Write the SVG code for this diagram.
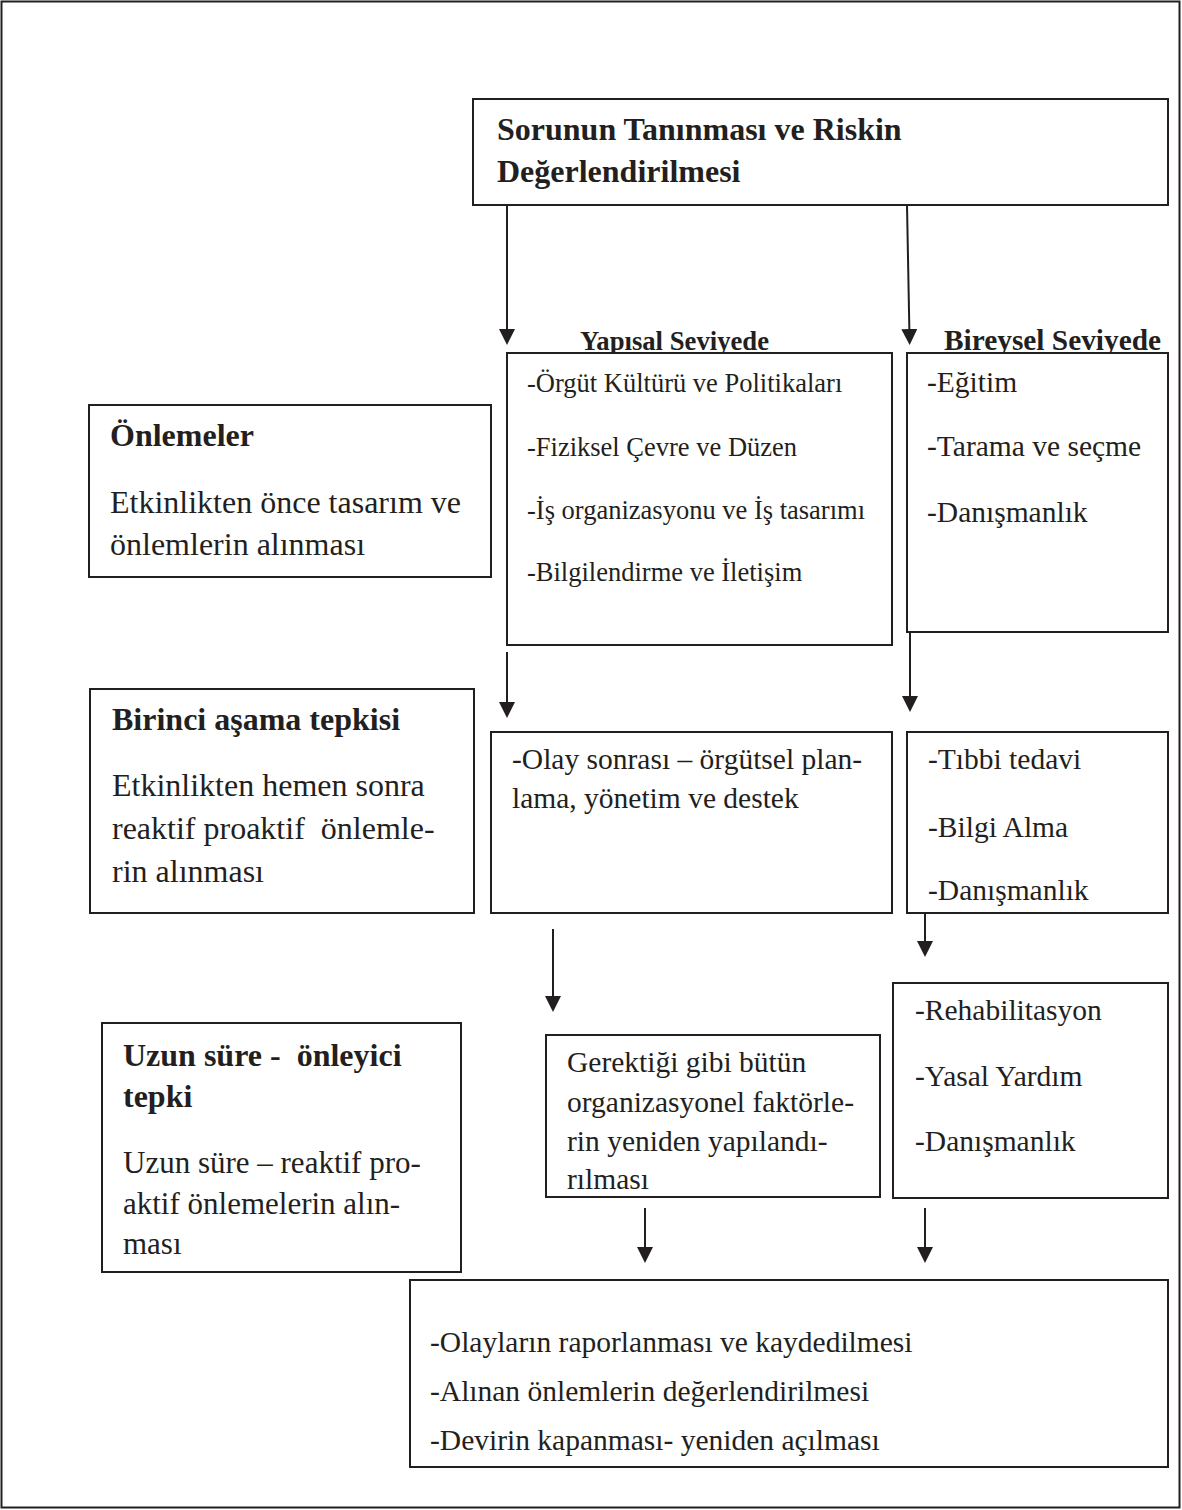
<svg xmlns="http://www.w3.org/2000/svg" width="1182" height="1510" viewBox="0 0 1182 1510">
<style>
.box{fill:#fff;stroke:#231f20;stroke-width:2}
.t{font-family:"Liberation Serif","Times New Roman",serif;fill:#231f20}
.b{font-weight:bold}
.s32{font-size:32px}
.s31{font-size:31px}
.s29{font-size:29.5px}
.s26{font-size:26.5px}
.conn line{stroke:#231f20;stroke-width:2;fill:none}
</style>
<defs>
<marker id="ah" viewBox="0 0 16 16" refX="8" refY="8" markerWidth="16" markerHeight="16" markerUnits="userSpaceOnUse" orient="auto">
<path d="M0,0 L16,8 L0,16 z" fill="#231f20"/>
</marker>
</defs>
<rect x="0" y="0" width="1182" height="1510" fill="#fff"/>
<rect x="1.5" y="1.5" width="1178" height="1506" fill="none" stroke="#231f20" stroke-width="2"/>

<g id="top">
<rect class="box" x="473" y="99" width="695" height="106"/>
<text class="t b s32" x="497" y="140">Sorunun Tanınması ve Riskin</text>
<text class="t b s32" x="497" y="182">Değerlendirilmesi</text>
</g>

<g id="label-yapisal">
<text class="t b" x="580" y="350" font-size="27" textLength="189" lengthAdjust="spacingAndGlyphs">Yapısal Seviyede</text>
</g>
<g id="label-bireysel">
<text class="t b" x="944" y="350" font-size="29.5" textLength="217" lengthAdjust="spacingAndGlyphs">Bireysel Seviyede</text>
</g>

<g id="yapisal">
<rect class="box" x="507" y="353" width="385" height="292"/>
<text class="t s26" x="527" y="392">-Örgüt Kültürü ve Politikaları</text>
<text class="t s26" x="527" y="456">-Fiziksel Çevre ve Düzen</text>
<text class="t s26" x="527" y="519">-İş organizasyonu ve İş tasarımı</text>
<text class="t s26" x="527" y="581">-Bilgilendirme ve İletişim</text>
</g>

<g id="bireysel">
<rect class="box" x="907" y="353" width="261" height="279"/>
<text class="t s29" x="927" y="392">-Eğitim</text>
<text class="t s29" x="927" y="456">-Tarama ve seçme</text>
<text class="t s29" x="927" y="522">-Danışmanlık</text>
</g>

<g id="onlemeler">
<rect class="box" x="89" y="405" width="402" height="172"/>
<text class="t b s32" x="110" y="446">Önlemeler</text>
<text class="t s32" x="110" y="513">Etkinlikten önce tasarım ve</text>
<text class="t s32" x="110" y="555">önlemlerin alınması</text>
</g>

<g id="birinci">
<rect class="box" x="90" y="689" width="384" height="224"/>
<text class="t b s32" x="112" y="730">Birinci aşama tepkisi</text>
<text class="t s32" x="112" y="796">Etkinlikten hemen sonra</text>
<text class="t s32" x="112" y="839">reaktif proaktif &#160;önlemle-</text>
<text class="t s32" x="112" y="882">rin alınması</text>
</g>

<g id="olay">
<rect class="box" x="491" y="732" width="401" height="181"/>
<text class="t s29" x="512" y="769">-Olay sonrası – örgütsel plan-</text>
<text class="t s29" x="512" y="808">lama, yönetim ve destek</text>
</g>

<g id="tibbi">
<rect class="box" x="907" y="732" width="261" height="181"/>
<text class="t s29" x="928" y="769">-Tıbbi tedavi</text>
<text class="t s29" x="928" y="837">-Bilgi Alma</text>
<text class="t s29" x="928" y="900">-Danışmanlık</text>
</g>

<g id="rehab">
<rect class="box" x="893" y="983" width="275" height="215"/>
<text class="t s29" x="915" y="1020">-Rehabilitasyon</text>
<text class="t s29" x="915" y="1086">-Yasal Yardım</text>
<text class="t s29" x="915" y="1151">-Danışmanlık</text>
</g>

<g id="gerektigi">
<rect class="box" x="546" y="1035" width="334" height="162"/>
<text class="t s29" x="567" y="1072">Gerektiği gibi bütün</text>
<text class="t s29" x="567" y="1112">organizasyonel faktörle-</text>
<text class="t s29" x="567" y="1151">rin yeniden yapılandı-</text>
<text class="t s29" x="567" y="1189">rılması</text>
</g>

<g id="uzun">
<rect class="box" x="102" y="1023" width="359" height="249"/>
<text class="t b s32" x="123" y="1066">Uzun süre - &#160;önleyici</text>
<text class="t b s32" x="123" y="1107">tepki</text>
<text class="t s31" x="123" y="1173">Uzun süre – reaktif pro-</text>
<text class="t s31" x="123" y="1214">aktif önlemelerin alın-</text>
<text class="t s31" x="123" y="1254">ması</text>
</g>

<g id="son">
<rect class="box" x="410" y="1280" width="758" height="187"/>
<text class="t s29" x="430" y="1352">-Olayların raporlanması ve kaydedilmesi</text>
<text class="t s29" x="430" y="1401">-Alınan önlemlerin değerlendirilmesi</text>
<text class="t s29" x="430" y="1450">-Devirin kapanması- yeniden açılması</text>
</g>

<g id="connectors" class="conn">
<line x1="507" y1="205" x2="507" y2="337" marker-end="url(#ah)"/>
<line x1="907" y1="205" x2="909.5" y2="337" marker-end="url(#ah)"/>
<line x1="507" y1="652" x2="507" y2="710" marker-end="url(#ah)"/>
<line x1="910" y1="632" x2="910" y2="704" marker-end="url(#ah)"/>
<line x1="553" y1="929" x2="553" y2="1004" marker-end="url(#ah)"/>
<line x1="925" y1="913" x2="925" y2="949" marker-end="url(#ah)"/>
<line x1="645" y1="1208" x2="645" y2="1255" marker-end="url(#ah)"/>
<line x1="925" y1="1208" x2="925" y2="1255" marker-end="url(#ah)"/>
</g>
</svg>
